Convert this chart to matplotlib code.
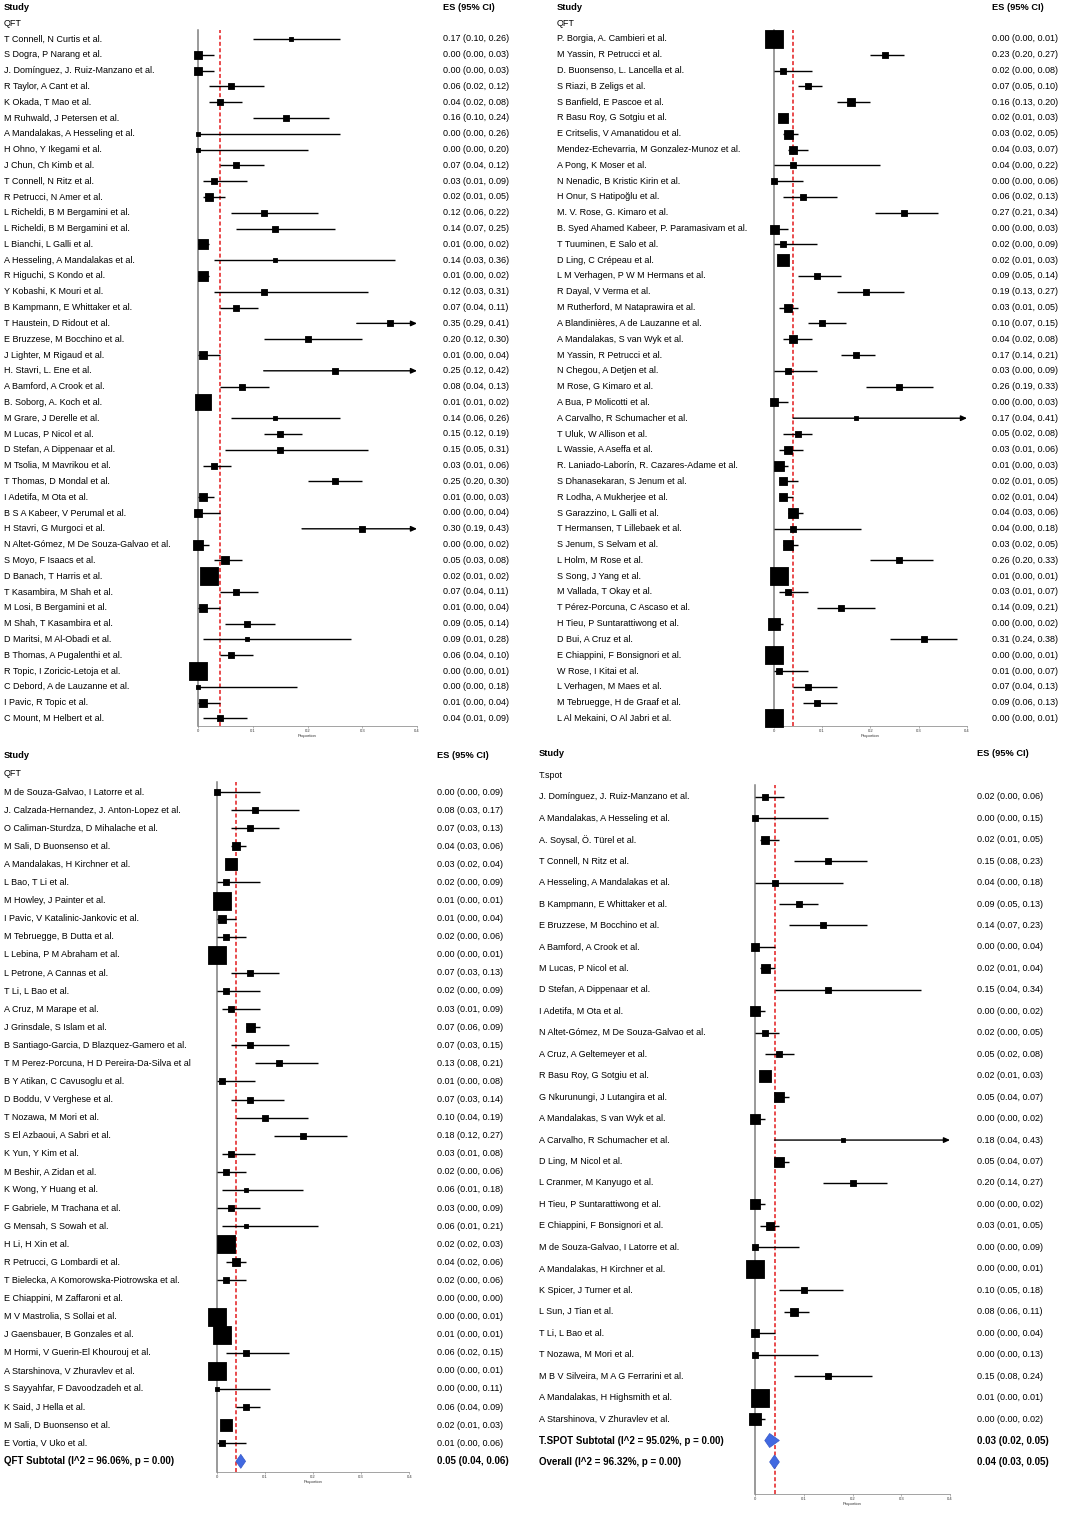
import numpy as np
import matplotlib.pyplot as plt
from matplotlib.patches import Polygon
from matplotlib.transforms import blended_transform_factory

plt.rcParams['font.family'] = ['Liberation Sans', 'DejaVu Sans']

W, H = 1088, 1516

# ---------------- data ----------------
# panel 1: QFT (first part)
p1_names = ['T Connell, N Curtis et al.', 'S Dogra, P Narang et al.',
            'J. Domínguez, J. Ruiz-Manzano et al.', 'R Taylor, A Cant et al.',
            'K Okada, T Mao et al.', 'M Ruhwald, J Petersen et al.',
            'A Mandalakas, A Hesseling et al.', 'H Ohno, Y Ikegami et al.',
            'J Chun, Ch Kimb et al.', 'T Connell, N Ritz et al.',
            'R Petrucci, N Amer et al.', 'L Richeldi, B M Bergamini et al.',
            'L Richeldi, B M Bergamini et al.', 'L Bianchi, L Galli et al.',
            'A Hesseling, A Mandalakas et al.', 'R Higuchi, S Kondo et al.',
            'Y Kobashi, K Mouri et al.', 'B Kampmann, E Whittaker et al.',
            'T Haustein, D Ridout et al.', 'E Bruzzese, M Bocchino et al.',
            'J Lighter, M Rigaud et al.', 'H. Stavri, L. Ene et al.',
            'A Bamford, A Crook et al.', 'B. Soborg, A. Koch et al.',
            'M Grare, J Derelle et al.', 'M Lucas, P Nicol et al.',
            'D Stefan, A Dippenaar et al.', 'M Tsolia, M Mavrikou et al.',
            'T Thomas, D Mondal et al.', 'I Adetifa, M Ota et al.',
            'B S A Kabeer, V Perumal et al.', 'H Stavri, G Murgoci et al.',
            'N Altet-Gómez, M De Souza-Galvao et al.', 'S Moyo, F Isaacs et al.',
            'D Banach, T Harris et al.', 'T Kasambira, M Shah et al.',
            'M Losi, B Bergamini et al.', 'M Shah, T Kasambira et al.',
            'D Maritsi, M Al-Obadi et al.', 'B Thomas, A Pugalenthi et al.',
            'R Topic, I Zoricic-Letoja et al.', 'C Debord, A de Lauzanne et al.',
            'I Pavic, R Topic et al.', 'C Mount, M Helbert et al.']
p1_es = [0.17, 0.00, 0.00, 0.06, 0.04, 0.16, 0.00, 0.00, 0.07, 0.03, 0.02, 0.12,
         0.14, 0.01, 0.14, 0.01, 0.12, 0.07, 0.35, 0.20, 0.01, 0.25, 0.08, 0.01,
         0.14, 0.15, 0.15, 0.03, 0.25, 0.01, 0.00, 0.30, 0.00, 0.05, 0.02, 0.07,
         0.01, 0.09, 0.09, 0.06, 0.00, 0.00, 0.01, 0.04]
p1_lo = [0.10, 0.00, 0.00, 0.02, 0.02, 0.10, 0.00, 0.00, 0.04, 0.01, 0.01, 0.06,
         0.07, 0.00, 0.03, 0.00, 0.03, 0.04, 0.29, 0.12, 0.00, 0.12, 0.04, 0.01,
         0.06, 0.12, 0.05, 0.01, 0.20, 0.00, 0.00, 0.19, 0.00, 0.03, 0.01, 0.04,
         0.00, 0.05, 0.01, 0.04, 0.00, 0.00, 0.00, 0.01]
p1_hi = [0.26, 0.03, 0.03, 0.12, 0.08, 0.24, 0.26, 0.20, 0.12, 0.09, 0.05, 0.22,
         0.25, 0.02, 0.36, 0.02, 0.31, 0.11, 0.41, 0.30, 0.04, 0.42, 0.13, 0.02,
         0.26, 0.19, 0.31, 0.06, 0.30, 0.03, 0.04, 0.43, 0.02, 0.08, 0.02, 0.11,
         0.04, 0.14, 0.28, 0.10, 0.01, 0.18, 0.04, 0.09]
p1_wt = [7, 23, 23, 11, 14, 9, 5, 5, 11, 11, 16, 8, 8, 37, 7, 37, 8, 14, 9, 9,
         18, 9, 11, 89, 7, 12, 9, 14, 9, 18, 20, 8, 37, 16, 100, 12, 18, 11, 7,
         14, 100, 7, 18, 14]

# panel 2: QFT (second part)
p2_names = ['P. Borgia, A. Cambieri et al.', 'M Yassin, R Petrucci et al.',
            'D. Buonsenso, L. Lancella et al.', 'S Riazi, B Zeligs et al.',
            'S Banfield, E Pascoe et al.', 'R Basu Roy, G Sotgiu et al.',
            'E Critselis, V Amanatidou et al.',
            'Mendez-Echevarria, M Gonzalez-Munoz et al.', 'A Pong, K Moser et al.',
            'N Nenadic, B Kristic Kirin et al.', 'H Onur, S Hatipoğlu et al.',
            'M. V. Rose, G. Kimaro et al.',
            'B. Syed Ahamed Kabeer, P. Paramasivam et al.',
            'T Tuuminen, E Salo et al.', 'D Ling, C Crépeau et al.',
            'L M Verhagen, P W M Hermans et al.', 'R Dayal, V Verma et al.',
            'M Rutherford, M Nataprawira et al.',
            'A Blandinières, A de Lauzanne et al.', 'A Mandalakas, S van Wyk et al.',
            'M Yassin, R Petrucci et al.', 'N Chegou, A Detjen et al.',
            'M Rose, G Kimaro et al.', 'A Bua, P Molicotti et al.',
            'A Carvalho, R Schumacher et al.', 'T Uluk, W Allison et al.',
            'L Wassie, A Aseffa et al.',
            'R. Laniado-Laborín, R. Cazares-Adame et al.',
            'S Dhanasekaran, S Jenum et al.', 'R Lodha, A Mukherjee et al.',
            'S Garazzino, L Galli et al.', 'T Hermansen, T Lillebaek et al.',
            'S Jenum, S Selvam et al.', 'L Holm, M Rose et al.',
            'S Song, J Yang et al.', 'M Vallada, T Okay et al.',
            'T Pérez-Porcuna, C Ascaso et al.', 'H Tieu, P Suntarattiwong et al.',
            'D Bui, A Cruz et al.', 'E Chiappini, F Bonsignori et al.',
            'W Rose, I Kitai et al.', 'L Verhagen, M Maes et al.',
            'M Tebruegge, H de Graaf et al.', 'L Al Mekaini, O Al Jabri et al.']
p2_es = [0.00, 0.23, 0.02, 0.07, 0.16, 0.02, 0.03, 0.04, 0.04, 0.00, 0.06, 0.27,
         0.00, 0.02, 0.02, 0.09, 0.19, 0.03, 0.10, 0.04, 0.17, 0.03, 0.26, 0.00,
         0.17, 0.05, 0.03, 0.01, 0.02, 0.02, 0.04, 0.04, 0.03, 0.26, 0.01, 0.03,
         0.14, 0.00, 0.31, 0.00, 0.01, 0.07, 0.09, 0.00]
p2_lo = [0.00, 0.20, 0.00, 0.05, 0.13, 0.01, 0.02, 0.03, 0.00, 0.00, 0.02, 0.21,
         0.00, 0.00, 0.01, 0.05, 0.13, 0.01, 0.07, 0.02, 0.14, 0.00, 0.19, 0.00,
         0.04, 0.02, 0.01, 0.00, 0.01, 0.01, 0.03, 0.00, 0.02, 0.20, 0.00, 0.01,
         0.09, 0.00, 0.24, 0.00, 0.00, 0.04, 0.06, 0.00]
p2_hi = [0.01, 0.27, 0.08, 0.10, 0.20, 0.03, 0.05, 0.07, 0.22, 0.06, 0.13, 0.34,
         0.03, 0.09, 0.03, 0.14, 0.27, 0.05, 0.15, 0.08, 0.21, 0.09, 0.33, 0.03,
         0.41, 0.08, 0.06, 0.03, 0.05, 0.04, 0.06, 0.18, 0.05, 0.33, 0.01, 0.07,
         0.21, 0.02, 0.38, 0.01, 0.07, 0.13, 0.13, 0.01]
p2_wt = [97, 14, 12, 14, 16, 37, 25, 20, 8, 14, 11, 9, 25, 11, 42, 9, 9, 20, 11,
         16, 11, 9, 9, 23, 7, 11, 18, 27, 20, 23, 27, 8, 27, 11, 100, 14, 11, 42,
         11, 92, 11, 11, 14, 92]

# panel 3: QFT (last part) + QFT subtotal
p3_names = ['M de Souza-Galvao, I Latorre et al.',
            'J. Calzada-Hernandez, J. Anton-Lopez et al.',
            'O Caliman-Sturdza, D Mihalache et al.', 'M Sali, D Buonsenso et al.',
            'A Mandalakas, H Kirchner et al.', 'L Bao, T Li et al.',
            'M Howley, J Painter et al.', 'I Pavic, V Katalinic-Jankovic et al.',
            'M Tebruegge, B Dutta et al.', 'L Lebina, P M Abraham et al.',
            'L Petrone, A Cannas et al.', 'T Li, L Bao et al.',
            'A Cruz, M Marape et al.', 'J Grinsdale, S Islam et al.',
            'B Santiago-Garcia, D Blazquez-Gamero et al.',
            'T M Perez-Porcuna, H D Pereira-Da-Silva et al',
            'B Y Atikan, C Cavusoglu et al.', 'D Boddu, V Verghese et al.',
            'T Nozawa, M Mori et al.', 'S El Azbaoui, A Sabri et al.',
            'K Yun, Y Kim et al.', 'M Beshir, A Zidan et al.',
            'K Wong, Y Huang et al.', 'F Gabriele, M Trachana et al.',
            'G Mensah, S Sowah et al.', 'H Li, H Xin et al.',
            'R Petrucci, G Lombardi et al.',
            'T Bielecka, A Komorowska-Piotrowska et al.',
            'E Chiappini, M Zaffaroni et al.', 'M V Mastrolia, S Sollai et al.',
            'J Gaensbauer, B Gonzales et al.',
            'M Hormi, V Guerin-El Khourouj et al.',
            'A Starshinova, V Zhuravlev et al.',
            'S Sayyahfar, F Davoodzadeh et al.', 'K Said, J Hella et al.',
            'M Sali, D Buonsenso et al.', 'E Vortia, V Uko et al.']
p3_es = [0.00, 0.08, 0.07, 0.04, 0.03, 0.02, 0.01, 0.01, 0.02, 0.00, 0.07, 0.02,
         0.03, 0.07, 0.07, 0.13, 0.01, 0.07, 0.10, 0.18, 0.03, 0.02, 0.06, 0.03,
         0.06, 0.02, 0.04, 0.02, 0.00, 0.00, 0.01, 0.06, 0.00, 0.00, 0.06, 0.02,
         0.01]
p3_lo = [0.00, 0.03, 0.03, 0.03, 0.02, 0.00, 0.00, 0.00, 0.00, 0.00, 0.03, 0.00,
         0.01, 0.06, 0.03, 0.08, 0.00, 0.03, 0.04, 0.12, 0.01, 0.00, 0.01, 0.00,
         0.01, 0.02, 0.02, 0.00, 0.00, 0.00, 0.00, 0.02, 0.00, 0.00, 0.04, 0.01,
         0.00]
p3_hi = [0.09, 0.17, 0.13, 0.06, 0.04, 0.09, 0.01, 0.04, 0.06, 0.01, 0.13, 0.09,
         0.09, 0.09, 0.15, 0.21, 0.08, 0.14, 0.19, 0.27, 0.08, 0.06, 0.18, 0.09,
         0.21, 0.03, 0.06, 0.06, 0.00, 0.01, 0.01, 0.15, 0.01, 0.11, 0.09, 0.03,
         0.06]
p3_wt = [8, 8, 10, 21, 39, 9, 100, 20, 12, 103, 10, 9, 11, 25, 10, 9, 11, 10, 9,
         8, 12, 15, 7, 11, 7, 103, 18, 14, 0, 103, 100, 9, 103, 7, 15, 39, 14]

# panel 4: T.spot + subtotal + overall
p4_names = ['J. Domínguez, J. Ruiz-Manzano et al.', 'A Mandalakas, A Hesseling et al.',
            'A. Soysal, Ö. Türel et al.', 'T Connell, N Ritz et al.',
            'A Hesseling, A Mandalakas et al.', 'B Kampmann, E Whittaker et al.',
            'E Bruzzese, M Bocchino et al.', 'A Bamford, A Crook et al.',
            'M Lucas, P Nicol et al.', 'D Stefan, A Dippenaar et al.',
            'I Adetifa, M Ota et al.', 'N Altet-Gómez, M De Souza-Galvao et al.',
            'A Cruz, A Geltemeyer et al.', 'R Basu Roy, G Sotgiu et al.',
            'G Nkurunungi, J Lutangira et al.', 'A Mandalakas, S van Wyk et al.',
            'A Carvalho, R Schumacher et al.', 'D Ling, M Nicol et al.',
            'L Cranmer, M Kanyugo et al.', 'H Tieu, P Suntarattiwong et al.',
            'E Chiappini, F Bonsignori et al.', 'M de Souza-Galvao, I Latorre et al.',
            'A Mandalakas, H Kirchner et al.', 'K Spicer, J Turner et al.',
            'L Sun, J Tian et al.', 'T Li, L Bao et al.', 'T Nozawa, M Mori et al.',
            'M B V Silveira, M A G Ferrarini et al.',
            'A Mandalakas, H Highsmith et al.', 'A Starshinova, V Zhuravlev et al.']
p4_es = [0.02, 0.00, 0.02, 0.15, 0.04, 0.09, 0.14, 0.00, 0.02, 0.15, 0.00, 0.02,
         0.05, 0.02, 0.05, 0.00, 0.18, 0.05, 0.20, 0.00, 0.03, 0.00, 0.00, 0.10,
         0.08, 0.00, 0.00, 0.15, 0.01, 0.00]
p4_lo = [0.00, 0.00, 0.01, 0.08, 0.00, 0.05, 0.07, 0.00, 0.01, 0.04, 0.00, 0.00,
         0.02, 0.01, 0.04, 0.00, 0.04, 0.04, 0.14, 0.00, 0.01, 0.00, 0.00, 0.05,
         0.06, 0.00, 0.00, 0.08, 0.00, 0.00]
p4_hi = [0.06, 0.15, 0.05, 0.23, 0.18, 0.13, 0.23, 0.04, 0.04, 0.34, 0.02, 0.05,
         0.08, 0.03, 0.07, 0.02, 0.43, 0.07, 0.27, 0.02, 0.05, 0.09, 0.01, 0.18,
         0.11, 0.04, 0.13, 0.24, 0.01, 0.02]
p4_wt = [12, 8, 20, 9, 8, 12, 9, 21, 25, 8, 37, 14, 15, 39, 27, 37, 7, 27, 9, 37,
         16, 9, 108, 9, 16, 20, 9, 9, 103, 39]

# pooled estimates
qft_label = 'QFT Subtotal (I^2 = 96.06%, p = 0.00)'
qft_pool = [0.05, 0.04, 0.06]
tspot_label = 'T.SPOT Subtotal (I^2 = 95.02%, p = 0.00)'
tspot_pool = [0.03, 0.02, 0.05]
overall_label = 'Overall (I^2 = 96.32%, p = 0.00)'
overall_pool = [0.04, 0.03, 0.05]

ticks = [0, 0.1, 0.2, 0.3, 0.4]
tick_labels = ['0', '0.1', '0.2', '0.3', '0.4']


def fmt(e, l, h):
    return '%.2f (%.2f, %.2f)' % (e, l, h)


def draw_panel(fig, g, group, names, es, lo, hi, wt, pooled):
    # g holds pixel geometry of the panel
    ax = fig.add_axes([g['x0'] / W, 1 - g['bottom'] / H,
                       (g['x4'] - g['x0']) / W, (g['bottom'] - g['top']) / H])
    ax.set_xlim(0, 0.4)
    ax.set_ylim((g['bottom'] - g['y0']) / g['dy'], (g['top'] - g['y0']) / g['dy'])
    tr = blended_transform_factory(fig.transFigure, ax.transData)

    ax.axvline(0, color='#7f7f7f', lw=1.1, zorder=1, clip_on=False)
    ax.axvline(overall_pool[0], color='#e31a1c', lw=1.1, ls=(0, (2.6, 1.6)), zorder=1.5)

    fs = 6.5
    ax.text(g['tx'] / W, -2, 'Study', transform=tr, fontsize=6.7, weight='bold', va='center')
    ax.text(g['ex'] / W, -2, 'ES (95% CI)', transform=tr, fontsize=6.7, weight='bold', va='center')
    ax.text(g['tx'] / W, -1, group, transform=tr, fontsize=fs, va='center')

    for i, (n, e, l, h, w) in enumerate(zip(names, es, lo, hi, wt)):
        ax.text(g['tx'] / W, i, n, transform=tr, fontsize=fs, va='center')
        ax.text(g['ex'] / W, i, fmt(e, l, h), transform=tr, fontsize=fs, va='center')
        if w == 0:
            continue
        if h > 0.4:
            ax.annotate('', xy=(0.4, i), xytext=(l, i), annotation_clip=False,
                        arrowprops=dict(arrowstyle='-|>,head_length=0.35,head_width=0.16',
                                        color='k', lw=1.0, shrinkA=0, shrinkB=0,
                                        mutation_scale=10))
        else:
            ax.hlines(i, l, h, color='k', lw=1.0, zorder=2)
        side = 18 * np.sqrt(w / 100.0) * 0.72
        ax.scatter([e], [i], s=side ** 2, marker='s', c='k', edgecolors='k',
                   linewidths=0.6, clip_on=False, zorder=3)

    hd = 7.0 / g['dy']
    for k, (lab, vals) in enumerate(pooled):
        y = len(names) + k
        e, l, h = vals
        ax.add_patch(Polygon([(l, y), (e, y - hd), (h, y), (e, y + hd)], closed=True,
                             fc='#4169e1', ec='#3558c8', lw=0.5, zorder=4))
        ax.text(g['tx'] / W, y, lab, transform=tr, fontsize=7, weight='bold', va='center')
        ax.text(g['ex'] / W, y, fmt(e, l, h), transform=tr, fontsize=7, weight='bold',
                va='center')

    for s in ['left', 'right', 'top']:
        ax.spines[s].set_visible(False)
    ax.spines['bottom'].set_color('#7f7f7f')
    ax.spines['bottom'].set_linewidth(0.5)
    ax.set_yticks([])
    ax.set_xticks(ticks)
    ax.set_xticklabels(tick_labels)
    ax.tick_params(axis='x', labelsize=3, length=1.2, width=0.4, pad=1.2,
                   color='#7f7f7f', labelcolor='#333333')
    ax.set_xlabel('Proportion', fontsize=3, labelpad=0.6, color='#333333')
    return ax


fig = plt.figure(figsize=(W / 100, H / 100), dpi=100)

geo1 = dict(tx=4, x0=198, x4=417, ex=443, y0=39, dy=15.8, top=30, bottom=726)
geo2 = dict(tx=557, x0=773.7, x4=967, ex=991.5, y0=39, dy=15.8, top=30, bottom=726)
geo3 = dict(tx=4, x0=216.7, x4=409.3, ex=436.7, y0=792, dy=18.09, top=782, bottom=1472)
geo4 = dict(tx=539, x0=755, x4=950, ex=976.7, y0=796.7, dy=21.46, top=785, bottom=1494)

draw_panel(fig, geo1, 'QFT', p1_names, p1_es, p1_lo, p1_hi, p1_wt, [])
draw_panel(fig, geo2, 'QFT', p2_names, p2_es, p2_lo, p2_hi, p2_wt, [])
draw_panel(fig, geo3, 'QFT', p3_names, p3_es, p3_lo, p3_hi, p3_wt,
           [(qft_label, qft_pool)])
draw_panel(fig, geo4, 'T.spot', p4_names, p4_es, p4_lo, p4_hi, p4_wt,
           [(tspot_label, tspot_pool), (overall_label, overall_pool)])

fig.savefig('out.png', dpi=100)
